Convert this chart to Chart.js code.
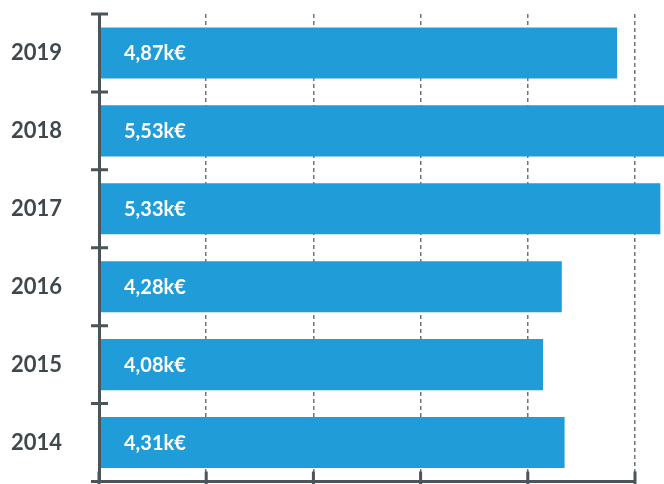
<!DOCTYPE html>
<html>
<head>
<meta charset="utf-8">
<script src="https://cdn.jsdelivr.net/npm/chart.js@4"></script>
<style>
  html, body { margin: 0; padding: 0; background: #fff; overflow: hidden; }
  canvas { display: block; }
</style>
</head>
<body>
<canvas id="graphique" width="664" height="484"></canvas>
<script>
// donnees
const annees = ['2019', '2018', '2017', '2016', '2015', '2014'];
const valeurs = [4.87, 5.53, 5.33, 4.28, 4.08, 4.31];
const axeMin = -0.65;
const axeMax = 5.06;

const bleu = '#209cd8';
const gris = '#4a5459';

// etiquettes dans les barres
const etiquettes = {
  id: 'etiquettes',
  afterDatasetsDraw(chart) {
    const ctx = chart.ctx;
    const meta = chart.getDatasetMeta(0);
    ctx.save();
    ctx.fillStyle = '#ffffff';
    ctx.font = 'bold 20px Lato';
    ctx.textBaseline = 'middle';
    ctx.textAlign = 'left';
    meta.data.forEach((barre, i) => {
      let txt = valeurs[i].toFixed(2).replace('.', ',') + 'k€';
      ctx.fillText(txt, chart.chartArea.left + 25, barre.y + 1);
    });
    ctx.restore();
  }
};

// petits traits des axes
const traits = {
  id: 'traits',
  afterDraw(chart) {
    const ctx = chart.ctx;
    const x = chart.scales.x;
    const y = chart.scales.y;
    const area = chart.chartArea;
    ctx.save();
    ctx.strokeStyle = gris;
    ctx.lineWidth = 3;
    ctx.beginPath();
    for (let i = 0; i <= annees.length; i++) {
      let py = y.getPixelForValue(i - 0.5);
      ctx.moveTo(area.left - 8, py);
      ctx.lineTo(area.left + 9, py);
    }
    x.ticks.forEach((t, i) => {
      let px = x.getPixelForTick(i);
      ctx.moveTo(px, area.bottom - 10);
      ctx.lineTo(px, area.bottom + 4);
    });
    ctx.stroke();
    ctx.restore();
  }
};

new Chart(document.querySelector('#graphique'), {
  type: 'bar',
  data: {
    labels: annees,
    datasets: [{
      data: valeurs,
      base: axeMin,
      backgroundColor: bleu,
      borderWidth: 0,
      categoryPercentage: 1,
      barPercentage: 0.655,
      clip: false
    }]
  },
  options: {
    indexAxis: 'y',
    responsive: false,
    animation: false,
    layout: { padding: { top: 14, right: 29, bottom: 2.5, left: 0 } },
    plugins: {
      legend: { display: false },
      tooltip: { enabled: false }
    },
    scales: {
      x: {
        min: axeMin,
        max: axeMax,
        ticks: { display: false, count: 6 },
        grid: {
          drawTicks: false,
          lineWidth: 1.5,
          color: (c) => c.index === 0 ? 'rgba(0,0,0,0)' : '#6d7579'
        },
        border: { display: true, color: gris, width: 3, dash: [4, 3], z: 1 },
        afterFit: (s) => { s.height = 0; s.paddingLeft = 0; s.paddingRight = 0; }
      },
      y: {
        grid: { display: false, drawTicks: false },
        border: { display: true, color: gris, width: 3, z: 1 },
        ticks: {
          color: '#3e484d',
          font: { family: 'Lato', weight: 'bold', size: 22 },
          padding: 37
        },
        afterFit: (s) => { s.width = 99; s.paddingTop = 0; s.paddingBottom = 0; }
      }
    }
  },
  plugins: [etiquettes, traits]
});
</script>
</body>
</html>
